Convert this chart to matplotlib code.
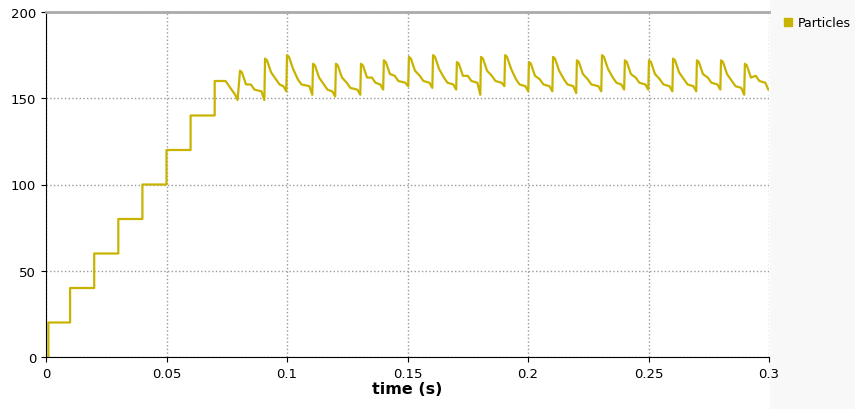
import numpy as np
import matplotlib.pyplot as plt

# staircase ramp-up (step time, level)
ramp_t = [0.0, 0.001, 0.01, 0.02, 0.03, 0.04, 0.05, 0.06, 0.07]
ramp_v = [0, 20, 40, 60, 80, 100, 120, 140, 160]

# oscillating part: each cycle jumps to a peak, decays to a plateau, dips to a trough
cyc_start = [0.0805, 0.0909, 0.1000, 0.1108, 0.1203, 0.1307, 0.1402, 0.1506, 0.1606, 0.1705, 0.1805,
             0.1905, 0.2004, 0.2104, 0.2203, 0.2307, 0.2402, 0.2502, 0.2602, 0.2701, 0.2801, 0.2900]
cyc_peak = [166, 173, 175, 170, 170, 170, 172, 174, 175, 171, 174,
            175, 171, 174, 172, 175, 172, 172, 173, 172, 172, 170]
cyc_plateau = [155, 158, 158, 155, 156, 159, 160, 160, 159, 160, 160,
               158, 158, 158, 158, 159, 159, 158, 158, 159, 157, 160]
cyc_trough = [149, 154, 152, 151, 152, 155, 157, 156, 155, 152, 157,
              154, 154, 153, 154, 155, 155, 154, 154, 155, 152, 155]
t_end = 0.3

# build a polyline: vertical jumps by repeating the time value
t, v = [0.0], [0]
for i in range(1, len(ramp_t)):
    t += [ramp_t[i], ramp_t[i]]
    v += [ramp_v[i - 1], ramp_v[i]]
t += [0.0745, 0.0785, 0.0795]
v += [160, 152, 149]
for i, s in enumerate(cyc_start):
    nxt = cyc_start[i + 1] if i + 1 < len(cyc_start) else t_end
    pk, pl, tr = cyc_peak[i], cyc_plateau[i], cyc_trough[i]
    t += [s, s + 0.0008, s + 0.0025, s + 0.0045, s + 0.006, nxt - 0.0015, nxt - 0.0003]
    v += [pk, pk - 1, pk - 8, pl + 3, pl, pl - 1, tr]
t.append(t_end); v.append(cyc_trough[-1])

color = '#c8b400'
fig = plt.figure(figsize=(8.55, 4.10), dpi=100)
ax = fig.add_axes([46 / 855, 1 - 358 / 410, 723 / 855, 345 / 410])
ax.plot(t, v, color=color, lw=1.6, label='Particles')
ax.set_xlim(0, 0.3)
ax.set_ylim(0, 200)
ax.set_xticks([0, 0.05, 0.1, 0.15, 0.2, 0.25, 0.3])
ax.set_xticklabels(['0', '0.05', '0.1', '0.15', '0.2', '0.25', '0.3'])
ax.set_yticks([0, 50, 100, 150, 200])
ax.grid(True, ls=':', color='#999999', lw=1)
ax.spines['top'].set_color('#aaaaaa')
ax.spines['top'].set_linewidth(2)
ax.spines['right'].set_visible(False)
ax.tick_params(labelsize=9.5)
ax.set_xlabel('time (s)', fontsize=11.5, fontweight='bold', labelpad=1)
ax.legend(loc='upper left', bbox_to_anchor=(1.005, 1.02), frameon=False, fontsize=9,
          handlelength=0.6, handletextpad=0.5,
          handles=[plt.Line2D([], [], marker='s', ls='', color=color, ms=6)], labels=['Particles'])
fig.patches.append(plt.Rectangle((770 / 855, 0), 85 / 855, 1, transform=fig.transFigure,
                                 color='#f8f8f8', zorder=-1))
fig.savefig('out.png', dpi=100)
